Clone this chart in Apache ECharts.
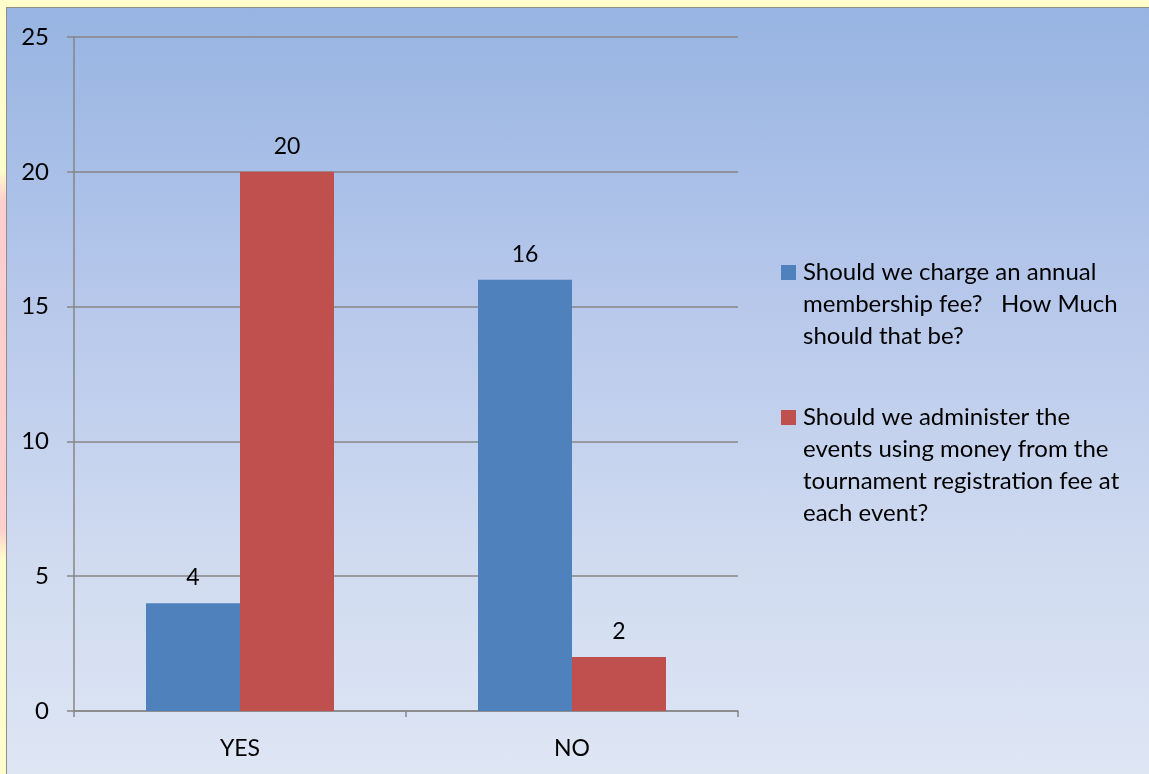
<!DOCTYPE html>
<html>
<head>
<meta charset="utf-8">
<script src="https://cdn.jsdelivr.net/npm/echarts@6/dist/echarts.min.js"></script>
<style>
  html, body { margin: 0; padding: 0; width: 1149px; height: 774px; overflow: hidden; background: #fffdcc; }
  #pink { position: absolute; left: 0; top: 170px; width: 6px; height: 390px;
          background: linear-gradient(to bottom, rgba(255,200,200,0), #ffcfcf 8%, #ffcfcf 92%, rgba(255,200,200,0)); }
  #bg { position: absolute; left: 6px; top: 7px; width: 1143px; height: 767px;
        border-left: 1px solid #8e8e86; border-top: 1px solid #8e8e86; box-sizing: border-box;
        background: linear-gradient(to bottom, #97b4e2 0%, #b4c6ea 35%, #cfdaf0 70%, #dee6f4 100%); }
  #chart { position: absolute; left: 0; top: 0; width: 1149px; height: 774px; }
</style>
</head>
<body>
<div id="pink"></div>
<div id="bg"></div>
<div id="chart"></div>
<script>
const categories = ['YES', 'NO'];
const seriesNames = [
  'Should we charge an annual membership fee?   How Much should that be?',
  'Should we administer the events using money from the tournament registration fee at each event?'
];
const legendLines = [
  ['Should we charge an annual', 'membership fee?   How Much', 'should that be?'],
  ['Should we administer the', 'events using money from the', 'tournament registration fee at', 'each event?']
];
const annualFeeValues = [4, 16];
const eventFeeValues = [20, 2];
const yTicks = [0, 5, 10, 15, 20, 25];

const FONT = 'Lato';
const LH = 32;
const chart = echarts.init(document.getElementById('chart'), null, { renderer: 'canvas' });
chart.setOption({
  animation: false,
  backgroundColor: 'transparent',
  textStyle: { fontFamily: FONT },
  grid: { left: 74, right: 411, top: 37, bottom: 63, containLabel: false },
  legend: {
    orient: 'vertical',
    left: 781,
    top: 192.5,
    padding: 0,
    itemGap: -47,
    itemWidth: 15,
    itemHeight: 15,
    icon: 'rect',
    selectedMode: false,
    data: seriesNames,
    formatter: function (name) {
      const lines = legendLines[seriesNames.indexOf(name)];
      // blank lines above keep the first text line level with the square
      const pad = new Array(lines.length - 1).fill(' ');
      return pad.concat(lines).join('\n');
    },
    textStyle: { fontFamily: FONT, fontSize: 24, color: '#000', lineHeight: LH, padding: [0, 0, 0, 2] }
  },
  xAxis: {
    type: 'category',
    data: categories,
    axisLine: { show: true, lineStyle: { color: '#868686', width: 1.5 } },
    axisTick: { show: true, alignWithLabel: false, length: 6, lineStyle: { color: '#868686', width: 1.5 } },
    axisLabel: { color: '#000', fontSize: 23, fontFamily: FONT, margin: 26 },
    splitLine: { show: false }
  },
  yAxis: {
    type: 'value',
    min: 0, max: 25, interval: 5,
    axisLine: { show: true, lineStyle: { color: '#868686', width: 1.5 } },
    axisTick: { show: true, length: 7, lineStyle: { color: '#868686', width: 1.5 } },
    axisLabel: {
      color: '#000', fontSize: 24, fontFamily: FONT, margin: 25,
      formatter: function (v) { return yTicks.indexOf(v) >= 0 ? String(v) : ''; }
    },
    splitLine: { show: true, lineStyle: { color: '#868686', width: 1.5 } }
  },
  series: [
    {
      name: seriesNames[0], type: 'bar', data: annualFeeValues,
      barWidth: 94, barGap: '0%',
      itemStyle: { color: '#4f81bd' },
      label: { show: true, position: 'top', distance: 14, color: '#000', fontSize: 23, fontFamily: FONT }
    },
    {
      name: seriesNames[1], type: 'bar', data: eventFeeValues,
      barWidth: 94, barGap: '0%',
      itemStyle: { color: '#c0504d' },
      label: { show: true, position: 'top', distance: 14, color: '#000', fontSize: 23, fontFamily: FONT }
    }
  ]
});
</script>
</body>
</html>
